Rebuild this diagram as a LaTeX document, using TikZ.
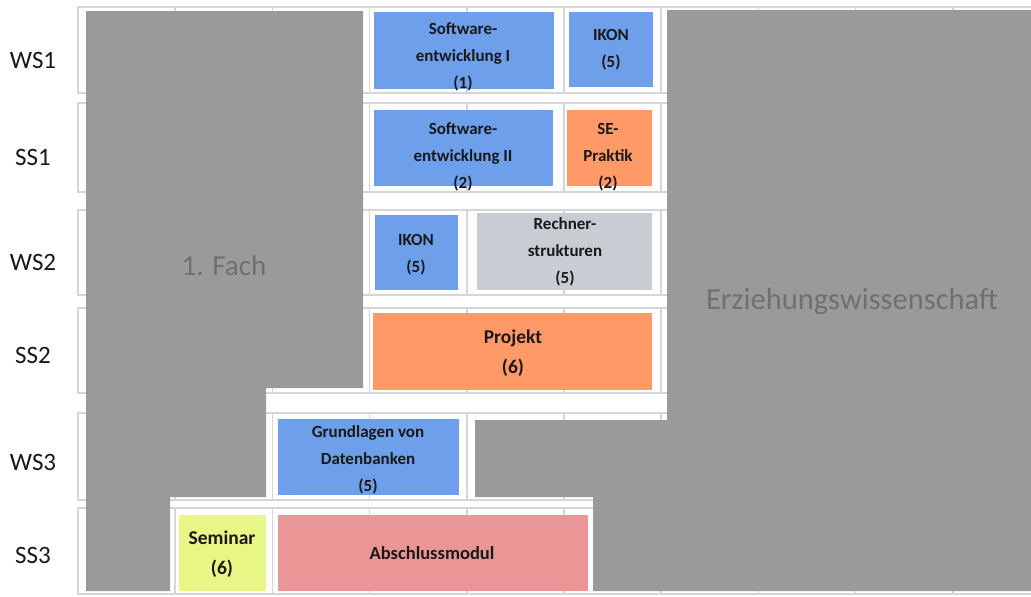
\documentclass[tikz,border=0pt]{standalone}
\usepackage{fontspec}
\setmainfont{Carlito}

\definecolor{flaeche}{RGB}{154,154,154}
\definecolor{flaechetext}{RGB}{112,112,112}
\definecolor{rasterlinie}{RGB}{214,214,214}
\definecolor{blau}{RGB}{110,159,235}
\definecolor{orange}{RGB}{255,154,104}
\definecolor{hellgrau}{RGB}{200,205,212}
\definecolor{gelb}{RGB}{231,246,132}
\definecolor{rosa}{RGB}{234,150,150}

\tikzset{
  raster/.style={draw=rasterlinie,line width=1.5pt},
  semester/.style={font=\fontsize{25}{30}\selectfont,text=black!90},
  modul/.style={font=\bfseries\fontsize{17}{27}\selectfont,align=center,text=black!90},
  grossmodul/.style={font=\bfseries\fontsize{19.5}{30}\selectfont,align=center,text=black!90},
  fach/.style={font=\fontsize{29}{34}\selectfont,text=flaechetext}
}

\begin{document}
\begin{tikzpicture}[x=1pt,y=-1pt]
    \useasboundingbox[fill=white] (0,0) rectangle (1031,597);

    % Tabellenraster je Semester
    \foreach \oben/\unten in {7/93,103/192,210/295,308/393,413/500,508/594}{
    \draw[raster] (78,\oben) rectangle (1060,\unten);
    \foreach \k in {1,...,9}{
    \draw[raster] ({78+97.2*\k},\oben) -- ({78+97.2*\k},\unten);
    }}

    % Semester
    \foreach \name/\y in {WS1/60,SS1/157,WS2/262,SS2/355,WS3/462,SS3/555}{
    \node[semester] (sem-\name) at (33,\y) {\name};
    }

    % graue Flaechen
    \fill[flaeche] (86,11) -- (363,11) -- (363,388) -- (266,388) -- (266,497)
        -- (170,497) -- (170,591) -- (86,591) -- cycle;
    \node[fach] (fach1) at (224,266) {1. Fach};
    \fill[flaeche] (667,10) -- (1031,10) -- (1031,591) -- (593,591) -- (593,497)
        -- (475,497) -- (475,420) -- (667,420) -- cycle;
    \node[fach,font=\fontsize{30.5}{34}\selectfont] (ezw) at (852,302) {Erziehungswissenschaft};

    % Module
    \fill[blau] (374,12) rectangle (554,89);
    \node[modul] (se1) at (463,57) {Software-\\entwicklung I\\(1)};
    \fill[blau] (569,12) rectangle (653,87);
    \node[modul] (ikon1) at (611,50) {IKON\\(5)};

    \fill[blau] (374,110) rectangle (553,186);
    \node[modul] (se2) at (463,157) {Software-\\entwicklung II\\(2)};
    \fill[orange] (567,110) rectangle (652,186);
    \node[modul] (sep) at (608,157) {SE-\\Praktik\\(2)};

    \fill[blau] (375,215) rectangle (458,290);
    \node[modul] (ikon2) at (416,255) {IKON\\(5)};
    \fill[hellgrau] (477,213) rectangle (652,290);
    \node[modul] (rs) at (565,252) {Rechner-\\strukturen\\(5)};

    \fill[orange] (373,313) rectangle (652,390);
    \node[grossmodul] (proj) at (513,353) {Projekt\\(6)};

    \fill[blau] (278,419) rectangle (459,495);
    \node[modul] (dbs) at (368,460) {Grundlagen von\\Datenbanken\\(5)};

    \fill[gelb] (179,515) rectangle (266,591);
    \node[grossmodul] (sem) at (222,554) {Seminar\\(6)};
    \fill[rosa] (278,515) rectangle (588,591);
    \node[modul,font=\bfseries\fontsize{18.5}{27}\selectfont] (abschl) at (432,553) {Abschlussmodul};
\end{tikzpicture}
\end{document}
